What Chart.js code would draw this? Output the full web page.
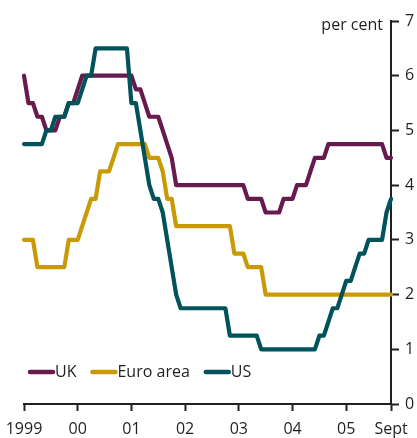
<!DOCTYPE html>
<html>
<head>
<meta charset="utf-8">
<script src="https://cdn.jsdelivr.net/npm/chart.js@4.4.1/dist/chart.umd.min.js"></script>
<style>
  html, body { margin: 0; padding: 0; background: #ffffff; }
  #wrap { position: relative; width: 417px; height: 438px; }
</style>
</head>
<body>
<div id="wrap"><canvas id="c" width="417" height="438"></canvas></div>
<script>
// Month positions along the x axis (0 = January 1999, monthly steps)
const months = [
  0,1,2,3,4,5,6,7,8,9,10,11,
  12,13,14,15,16,17,18,19,20,21,22,23,
  24,25,26,27,28,29,30,31,32,33,34,35,
  36,37,38,39,40,41,42,43,44,45,46,47,
  48,49,50,51,52,53,54,55,56,57,58,59,
  60,61,62,63,64,65,66,67,68,69,70,71,
  72,73,74,75,76,77,78,79,80,81,82
];

const seriesNames = ['UK', 'Euro area', 'US'];

const ukRate = [
  6.0,5.5,5.5,5.25,5.25,5.0,5.0,5.0,5.25,5.25,5.5,5.5,
  5.75,6.0,6.0,6.0,6.0,6.0,6.0,6.0,6.0,6.0,6.0,6.0,
  6.0,5.75,5.75,5.5,5.25,5.25,5.25,5.0,4.75,4.5,4.0,4.0,
  4.0,4.0,4.0,4.0,4.0,4.0,4.0,4.0,4.0,4.0,4.0,4.0,
  4.0,4.0,3.75,3.75,3.75,3.75,3.5,3.5,3.5,3.5,3.75,3.75,
  3.75,4.0,4.0,4.0,4.25,4.5,4.5,4.5,4.75,4.75,4.75,4.75,
  4.75,4.75,4.75,4.75,4.75,4.75,4.75,4.75,4.75,4.5,4.5
];

const euroRate = [
  3.0,3.0,3.0,2.5,2.5,2.5,2.5,2.5,2.5,2.5,3.0,3.0,
  3.0,3.25,3.5,3.75,3.75,4.25,4.25,4.25,4.5,4.75,4.75,4.75,
  4.75,4.75,4.75,4.75,4.5,4.5,4.5,4.25,3.75,3.75,3.25,3.25,
  3.25,3.25,3.25,3.25,3.25,3.25,3.25,3.25,3.25,3.25,3.25,2.75,
  2.75,2.75,2.5,2.5,2.5,2.5,2.0,2.0,2.0,2.0,2.0,2.0,
  2.0,2.0,2.0,2.0,2.0,2.0,2.0,2.0,2.0,2.0,2.0,2.0,
  2.0,2.0,2.0,2.0,2.0,2.0,2.0,2.0,2.0,2.0,2.0
];

const usRate = [
  4.75,4.75,4.75,4.75,4.75,5.0,5.0,5.25,5.25,5.25,5.5,5.5,
  5.5,5.75,6.0,6.0,6.5,6.5,6.5,6.5,6.5,6.5,6.5,6.5,
  5.5,5.5,5.0,4.5,4.0,3.75,3.75,3.5,3.0,2.5,2.0,1.75,
  1.75,1.75,1.75,1.75,1.75,1.75,1.75,1.75,1.75,1.75,1.25,1.25,
  1.25,1.25,1.25,1.25,1.25,1.0,1.0,1.0,1.0,1.0,1.0,1.0,
  1.0,1.0,1.0,1.0,1.0,1.0,1.25,1.25,1.5,1.75,1.75,2.0,
  2.25,2.25,2.5,2.75,2.75,3.0,3.0,3.0,3.0,3.5,3.75
];

const xTickPositions = [0, 12, 24, 36, 48, 60, 72, 82];
const xTickLabels = ['1999', '00', '01', '02', '03', '04', '05', 'Sept'];
const yTickValues = [0, 1, 2, 3, 4, 5, 6, 7];
const unitLabel = 'per cent';

const colors = ['#661A4D', '#C99A06', '#00525B'];
const FONT = '"Open Sans", "Noto Sans", sans-serif';
const TEXT = '#231F20';
const AXIS = '#231F20';

function pts(vals) { return months.map((m, i) => ({ x: m, y: vals[i] })); }

const allSeries = [ukRate, euroRate, usRate];
const datasets = allSeries.map((vals, i) => ({
  label: seriesNames[i],
  data: pts(vals),
  borderColor: colors[i],
  backgroundColor: colors[i],
  borderWidth: 4.2,
  pointRadius: 0,
  tension: 0,
  fill: false,
  clip: 6,
  borderJoinStyle: 'round',
  borderCapStyle: 'round',
  order: 3 - i
}));

const extras = {
  id: 'extras',
  afterDraw(chart) {
    const ctx = chart.ctx;
    const area = chart.chartArea;
    ctx.save();
    // unit label
    ctx.font = '16px ' + FONT;
    ctx.fillStyle = TEXT;
    ctx.textAlign = 'right';
    ctx.textBaseline = 'middle';
    ctx.fillText(unitLabel, area.right - 8, area.top + 4);
    // legend inside plot
    let x = area.left + 4;
    const y = 372;
    ctx.textAlign = 'left';
    chart.data.datasets.forEach((ds) => {
      ctx.strokeStyle = ds.borderColor;
      ctx.lineWidth = 4.5;
      ctx.lineCap = 'round';
      ctx.beginPath();
      ctx.moveTo(x + 2, y);
      ctx.lineTo(x + 25, y);
      ctx.stroke();
      ctx.fillStyle = TEXT;
      ctx.fillText(ds.label, x + 27, y);
      x += 27 + ctx.measureText(ds.label).width + 14;
    });
    ctx.restore();
  }
};

new Chart(document.getElementById('c'), {
  type: 'line',
  data: { datasets },
  plugins: [extras],
  options: {
    responsive: false,
    animation: false,
    events: [],
    layout: { padding: { left: 24, top: 21, right: 0, bottom: 0 } },
    plugins: { legend: { display: false }, tooltip: { enabled: false }, title: { display: false } },
    scales: {
      x: {
        type: 'linear',
        min: 0,
        max: 82,
        afterBuildTicks(scale) { scale.ticks = xTickPositions.map(v => ({ value: v })); },
        afterFit(scale) { scale.height = 34; },
        ticks: {
          autoSkip: false,
          maxRotation: 0,
          padding: 5,
          color: TEXT,
          font: { family: FONT, size: 16, lineHeight: 1.7 },
          callback(v) { const k = xTickPositions.indexOf(v); return k >= 0 ? xTickLabels[k] : ''; }
        },
        grid: { drawOnChartArea: false, drawTicks: true, tickLength: 7, tickWidth: 2, tickColor: AXIS },
        border: { display: true, color: AXIS, width: 2 }
      },
      y: {
        position: 'right',
        min: 0,
        max: 7,
        afterBuildTicks(scale) { scale.ticks = yTickValues.map(v => ({ value: v })); },
        afterFit(scale) { scale.width = 26; },
        ticks: {
          padding: 6,
          color: TEXT,
          font: { family: FONT, size: 16 }
        },
        grid: { drawOnChartArea: false, drawTicks: true, tickLength: 8, tickWidth: 2, tickColor: AXIS },
        border: { display: true, color: AXIS, width: 2 }
      }
    }
  }
});
</script>
</body>
</html>
